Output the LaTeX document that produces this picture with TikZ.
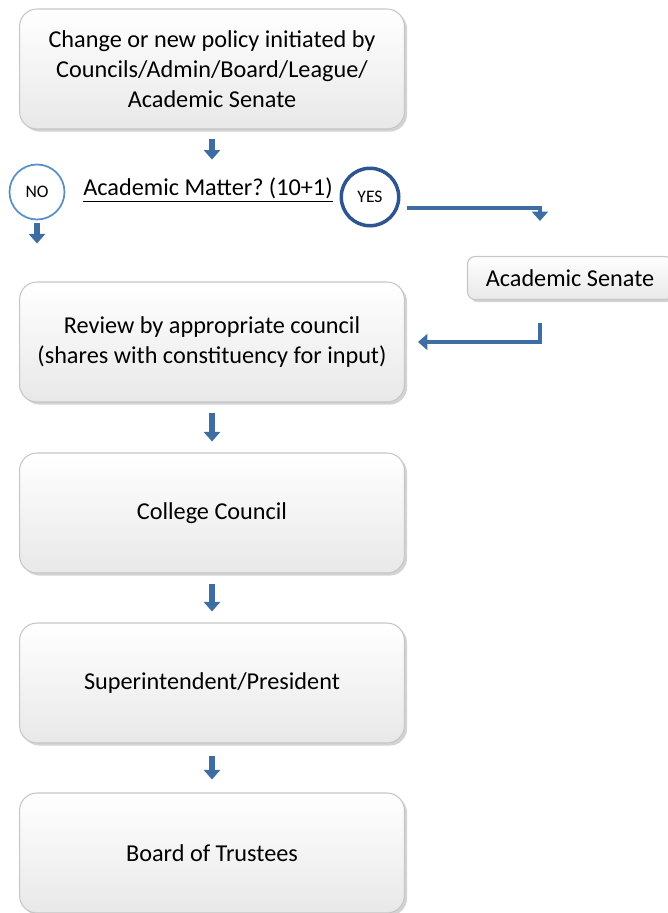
\documentclass[tikz,border=0pt]{standalone}
\usepackage{fontspec}
\setmainfont{Carlito}
\usetikzlibrary{arrows.meta,shadows}

\definecolor{arrowblue}{HTML}{3E6DA3}
\definecolor{noblue}{HTML}{5B8FC9}
\definecolor{yesblue}{HTML}{2F5590}

\tikzset{
  box/.style={rounded corners=0.35cm, draw=gray!45, line width=0.6pt,
    top color=white, bottom color=gray!18,
    drop shadow={shadow xshift=1.5pt, shadow yshift=-1.5pt, opacity=0.35},
    minimum width=7.7cm, minimum height=2.4cm, align=center,
    font=\fontsize{13.8}{17}\selectfont},
  flow/.style={draw=arrowblue, line width=3.6pt,
    -{Triangle[width=0.32cm,length=0.19cm]}},
  answer/.style={circle, fill=white, inner sep=0pt, font=\fontsize{10}{10}\selectfont},
}

\begin{document}
\begin{tikzpicture}[x=0.02cm,y=-0.02cm]

    \useasboundingbox (0,0) rectangle (667,913);

    %boxes
    \node[box] (start) at (212,69) {Change or new policy initiated by\\Councils/Admin/Board/League/\\Academic Senate};
    \node[box] (review) at (212,342) {Review by appropriate council\\(shares with constituency for input)};
    \node[box] (college) at (212,513) {College Council};
    \node[box] (super) at (212,683) {Superintendent/President};
    \node[box] (board) at (212,853) {Board of Trustees};
    \node[box, minimum width=4.1cm, minimum height=0.86cm, rounded corners=0.15cm] (senate) at (570,278) {Academic Senate};

    %question
    \node[font=\fontsize{13.8}{15}\selectfont, inner sep=1pt] (q) at (208,190) {\underline{Academic Matter?\ (10+1)}};
    \node[answer, draw=noblue, line width=1pt, minimum size=1.1cm] (no) at (37,192) {NO};
    \node[answer, draw=yesblue, line width=2pt, minimum size=1.15cm] (yes) at (370,197) {YES};

    \coordinate (yesend) at (540,221);
    \coordinate (backstart) at (540,323);

    %arrows
    \draw[flow, shorten <=0.18cm, shorten >=0.32cm] (start.south) -- (start.south |- q.north);
    \draw[flow, shorten <=0.06cm, shorten >=0.76cm] (no.south) -- (no.south |- review.north);
    \draw[flow, line width=2.6pt] ([xshift=0.12cm,yshift=-0.22cm]yes.east) -| (yesend);
    \draw[flow, line width=2.6pt, shorten >=0.26cm] (backstart) |- (review.east);
    \draw[flow, shorten <=0.2cm, shorten >=0.22cm] (review) -- (college);
    \draw[flow, shorten <=0.2cm, shorten >=0.22cm] (college) -- (super);
    \draw[flow, shorten <=0.24cm, shorten >=0.26cm] (super) -- (board);

\end{tikzpicture}
\end{document}
